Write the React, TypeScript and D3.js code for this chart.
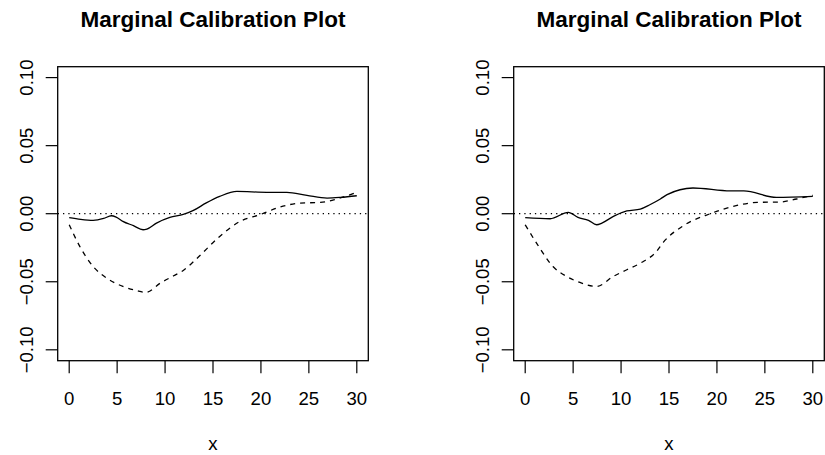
import React from "react";
import * as d3 from "d3";

const TITLE = "Marginal Calibration Plot";
const X_LABEL = "x";
const xTicks = [0, 5, 10, 15, 20, 25, 30];
const yTicks = [-0.1, -0.05, 0, 0.05, 0.1];
const yTickLabels = ["\u22120.10", "\u22120.05", "0.00", "0.05", "0.10"];

// Left panel
const leftSolidX = [0, 1.2, 2.5, 3.6, 4.4, 4.9, 5.6, 6.7, 7.7, 8.1, 9.1, 10.5, 11.9, 12.9, 14.3, 15.7, 17.5, 20.6, 22.7, 24.8, 26.9, 28.3, 30];
const leftSolidY = [-0.0029, -0.0042, -0.0049, -0.0035, -0.0015, -0.0025, -0.0056, -0.0088, -0.0118, -0.0113, -0.0069, -0.0027, -0.0005, 0.0022, 0.0079, 0.0127, 0.0164, 0.0157, 0.0157, 0.0135, 0.0115, 0.012, 0.0132];
const leftDashX = [0, 1.1, 2.5, 3.9, 5.6, 7.0, 8.0, 9.5, 10.9, 11.9, 13.3, 15.7, 17.8, 19.9, 22.0, 24.1, 26.2, 27.9, 30];
const leftDashY = [-0.0081, -0.024, -0.0388, -0.0473, -0.0534, -0.0564, -0.0578, -0.051, -0.0456, -0.0417, -0.033, -0.0167, -0.0057, -0.0007, 0.0049, 0.0078, 0.0083, 0.0108, 0.0157];

// Right panel
const rightSolidX = [0, 2.6, 4.5, 5.5, 6.6, 7.45, 8.0, 9.2, 10.6, 12.0, 13.0, 14.1, 14.8, 17.5, 21.4, 22.8, 26.2, 30];
const rightSolidY = [-0.0029, -0.0037, 0.001, -0.0027, -0.0049, -0.0081, -0.0069, -0.002, 0.002, 0.0034, 0.0066, 0.0108, 0.014, 0.0189, 0.0167, 0.0167, 0.012, 0.0127];
const rightDashX = [0, 1.4, 2.9, 4.3, 5.7, 7.45, 9.2, 10.6, 12.1, 13.7, 14.4, 16.5, 19.3, 22.1, 24.2, 26.6, 28.3, 30];
const rightDashY = [-0.0081, -0.024, -0.0388, -0.046, -0.0505, -0.0534, -0.046, -0.0412, -0.036, -0.0277, -0.0211, -0.0088, 0, 0.0061, 0.0083, 0.0086, 0.0108, 0.0135];

const W = 825;
const H = 455;
const FONT = "'Liberation Sans', Arial, Helvetica, sans-serif";
const TOP = 66.7;
const BOTTOM = 360.7;
const BOX_W = 310.6;
const BASE_FS = 18.6;
const TITLE_FS = 22.5;

const panels = [
  { left: 57.7, solid: [leftSolidX, leftSolidY], dash: [leftDashX, leftDashY] },
  { left: 513.7, solid: [rightSolidX, rightSolidY], dash: [rightDashX, rightDashY] },
];

function Panel({ p, idx }: { p: any; idx: number }) {
  const x = d3.scaleLinear().domain([-1.2, 31.2]).range([p.left, p.left + BOX_W]);
  const y = d3.scaleLinear().domain([-0.108, 0.108]).range([BOTTOM, TOP]);
  const line = d3
    .line<[number, number]>()
    .x((d) => x(d[0]))
    .y((d) => y(d[1]))
    .curve(d3.curveMonotoneX);
  const solidPts = p.solid[0].map((v: number, i: number) => [v, p.solid[1][i]] as [number, number]);
  const dashPts = p.dash[0].map((v: number, i: number) => [v, p.dash[1][i]] as [number, number]);
  const cx = p.left + BOX_W / 2;
  const clipId = `clip${idx}`;
  return (
    <g>
      <defs>
        <clipPath id={clipId}>
          <rect x={p.left} y={TOP} width={BOX_W} height={BOTTOM - TOP} />
        </clipPath>
      </defs>
      <text x={cx} y={26.5} textAnchor="middle" fontFamily={FONT} fontWeight="bold" fontSize={TITLE_FS} fill="#000">
        {TITLE}
      </text>
      <g clipPath={`url(#${clipId})`}>
        <line x1={p.left} x2={p.left + BOX_W} y1={y(0)} y2={y(0)} stroke="#000" strokeWidth={1.2} strokeDasharray="1.3,4" />
        <path d={line(solidPts) || ""} fill="none" stroke="#000" strokeWidth={1.3} />
        <path d={line(dashPts) || ""} fill="none" stroke="#000" strokeWidth={1.3} strokeDasharray="5,5" />
      </g>
      <rect x={p.left} y={TOP} width={BOX_W} height={BOTTOM - TOP} fill="none" stroke="#000" strokeWidth={1.3} />
      {xTicks.map((t) => (
        <g key={"x" + t}>
          <line x1={x(t)} x2={x(t)} y1={BOTTOM} y2={BOTTOM + 12.5} stroke="#000" strokeWidth={1.2} />
          <text x={x(t)} y={404.7} textAnchor="middle" fontFamily={FONT} fontSize={BASE_FS} fill="#000">
            {String(t)}
          </text>
        </g>
      ))}
      {yTicks.map((t, i) => (
        <g key={"y" + i}>
          <line x1={p.left - 12} x2={p.left} y1={y(t)} y2={y(t)} stroke="#000" strokeWidth={1.2} />
          <text
            transform={`translate(${p.left - 24.8},${y(t)}) rotate(-90)`}
            textAnchor="middle"
            fontFamily={FONT}
            fontSize={BASE_FS}
            fill="#000"
          >
            {yTickLabels[i]}
          </text>
        </g>
      ))}
      <text x={cx} y={450.3} textAnchor="middle" fontFamily={FONT} fontSize={BASE_FS} fill="#000">
        {X_LABEL}
      </text>
    </g>
  );
}

export default function App() {
  return (
    <svg width={W} height={H} style={{ position: "absolute", left: 0, top: 0, background: "#fff" }}>
      <rect x={0} y={0} width={W} height={H} fill="#fff" />
      {panels.map((p, i) => (
        <Panel key={i} p={p} idx={i} />
      ))}
    </svg>
  );
}
